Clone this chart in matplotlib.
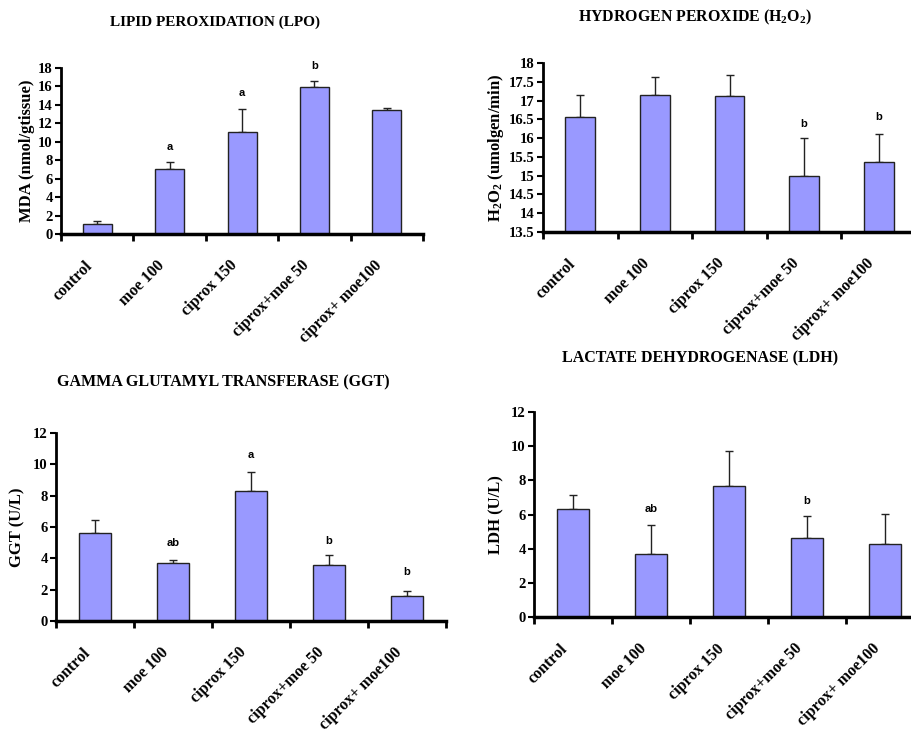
import matplotlib
matplotlib.use("Agg")
import matplotlib.pyplot as plt
import matplotlib.transforms as mtransforms
import numpy as np

plt.rcParams['font.family'] = ['Liberation Serif', 'DejaVu Serif']
plt.rcParams['font.weight'] = 'bold'
plt.rcParams['mathtext.fontset'] = 'custom'
plt.rcParams['mathtext.rm'] = 'Liberation Serif:bold'
plt.rcParams['mathtext.it'] = 'Liberation Serif:bold'
plt.rcParams['mathtext.bf'] = 'Liberation Serif:bold'

categories = ["control", "moe 100", "ciprox 150", "ciprox+moe 50", "ciprox+ moe100"]

# LPO
lpo_mean = [1.1, 7.1, 11.1, 15.9, 13.5]
lpo_err = [0.3, 0.7, 2.5, 0.7, 0.2]
lpo_letters = ["", "a", "a", "b", ""]
lpo_letter_y = [None, 9.4, 15.3, 18.2, None]

# H2O2
h2o2_mean = [16.57, 17.15, 17.12, 14.98, 15.37]
h2o2_err = [0.58, 0.47, 0.56, 1.02, 0.75]
h2o2_letters = ["", "", "", "b", "b"]
h2o2_letter_y = [None, None, None, 16.37, 16.55]

# GGT
ggt_mean = [5.6, 3.7, 8.3, 3.55, 1.6]
ggt_err = [0.85, 0.2, 1.2, 0.65, 0.3]
ggt_letters = ["", "ab", "a", "b", "b"]
ggt_letter_y = [None, 4.95, 10.57, 5.1, 3.14]

# LDH
ldh_mean = [6.35, 3.7, 7.65, 4.65, 4.3]
ldh_err = [0.8, 1.7, 2.05, 1.25, 1.75]
ldh_letters = ["", "ab", "", "b", ""]
ldh_letter_y = [None, 6.3, None, 6.77, None]

BAR = "#9999FF"

fig = plt.figure(figsize=(9.12, 7.49), dpi=100)


def panel(rect, mean, err, letters, letter_y, ylim, yticks, ylabel, ylab_x, tick_fmt):
    ax = fig.add_axes(rect)
    x = np.arange(len(categories))
    base = ylim[0]
    heights = [m - base for m in mean]
    ax.bar(x, heights, bottom=base, width=0.4, color=BAR, edgecolor="#222222",
           linewidth=1.0, zorder=2)
    ax.errorbar(x, mean, yerr=[np.zeros(len(err)), err], fmt="none",
                ecolor="#222222", elinewidth=1.0, capsize=3, capthick=1.0, zorder=1)
    for xi, lt, ly in zip(x, letters, letter_y):
        if lt:
            ax.text(xi, ly, lt, ha="center", va="center", fontsize=8,
                    family="Liberation Sans", weight="bold", clip_on=False)
    ax.set_xlim(-0.5, 4.5)
    ax.set_ylim(*ylim)
    ax.set_yticks(yticks)
    ax.set_yticklabels([tick_fmt(v) for v in yticks], fontsize=10.5, weight="bold")
    ax.set_xticks(x)
    ax.set_xticklabels(categories, rotation=45, ha="right", va="top",
                       fontsize=11.5, weight="bold", rotation_mode="anchor")
    ax.tick_params(axis="x", which="major", length=0, pad=17)
    ax.set_xticks(np.arange(-0.5, 5.0, 1.0), minor=True)
    ax.tick_params(axis="x", which="minor", length=5, width=2, direction="out")
    ax.tick_params(axis="y", length=4, width=1.5, direction="out", pad=2)
    shift = mtransforms.ScaledTranslation(-0.13, 0, fig.dpi_scale_trans)
    for tick in ax.xaxis.get_major_ticks():
        tick.label1.set_transform(tick.label1.get_transform() + shift)
    for s in ("top", "right"):
        ax.spines[s].set_visible(False)
    ax.spines["left"].set_linewidth(2)
    ax.spines["bottom"].set_linewidth(2.5)
    ax.set_ylabel(ylabel, fontsize=12, weight="bold")
    ax.yaxis.set_label_coords(ylab_x, 0.5)
    return ax


def fmt_int(v):
    return "%d" % v


def fmt_g(v):
    return ("%g" % v)


panel([0.0669, 0.6876, 0.397, 0.2216], lpo_mean, lpo_err, lpo_letters, lpo_letter_y,
      (0, 18), np.arange(0, 19, 2), "MDA (nmol/gtissue)", -0.072, fmt_int)
fig.text(0.236, 0.970, "LIPID PEROXIDATION (LPO)", ha="center", va="center",
         fontsize=11, weight="bold")

panel([0.5954, 0.6903, 0.409, 0.2256], h2o2_mean, h2o2_err, h2o2_letters, h2o2_letter_y,
      (13.5, 18), np.arange(13.5, 18.01, 0.5), r"H$_2$O$_2$ (umolgen/min)", -0.10, fmt_g)
fig.text(0.762, 0.977, r"HYDROGEN PEROXIDE (H$_2$O$_2$)", ha="center", va="center",
         fontsize=11.4, weight="bold")

panel([0.0614, 0.1709, 0.4276, 0.251], ggt_mean, ggt_err, ggt_letters, ggt_letter_y,
      (0, 12), np.arange(0, 13, 2), "GGT (U/L)", -0.078, fmt_int)
fig.text(0.245, 0.489, "GAMMA GLUTAMYL TRANSFERASE (GGT)", ha="center", va="center",
         fontsize=11.5, weight="bold")

panel([0.5855, 0.1762, 0.4277, 0.2737], ldh_mean, ldh_err, ldh_letters, ldh_letter_y,
      (0, 12), np.arange(0, 13, 2), "LDH (U/L)", -0.077, fmt_int)
fig.text(0.768, 0.522, "LACTATE DEHYDROGENASE (LDH)", ha="center", va="center",
         fontsize=11.5, weight="bold")

fig.savefig("out.png", dpi=100)
